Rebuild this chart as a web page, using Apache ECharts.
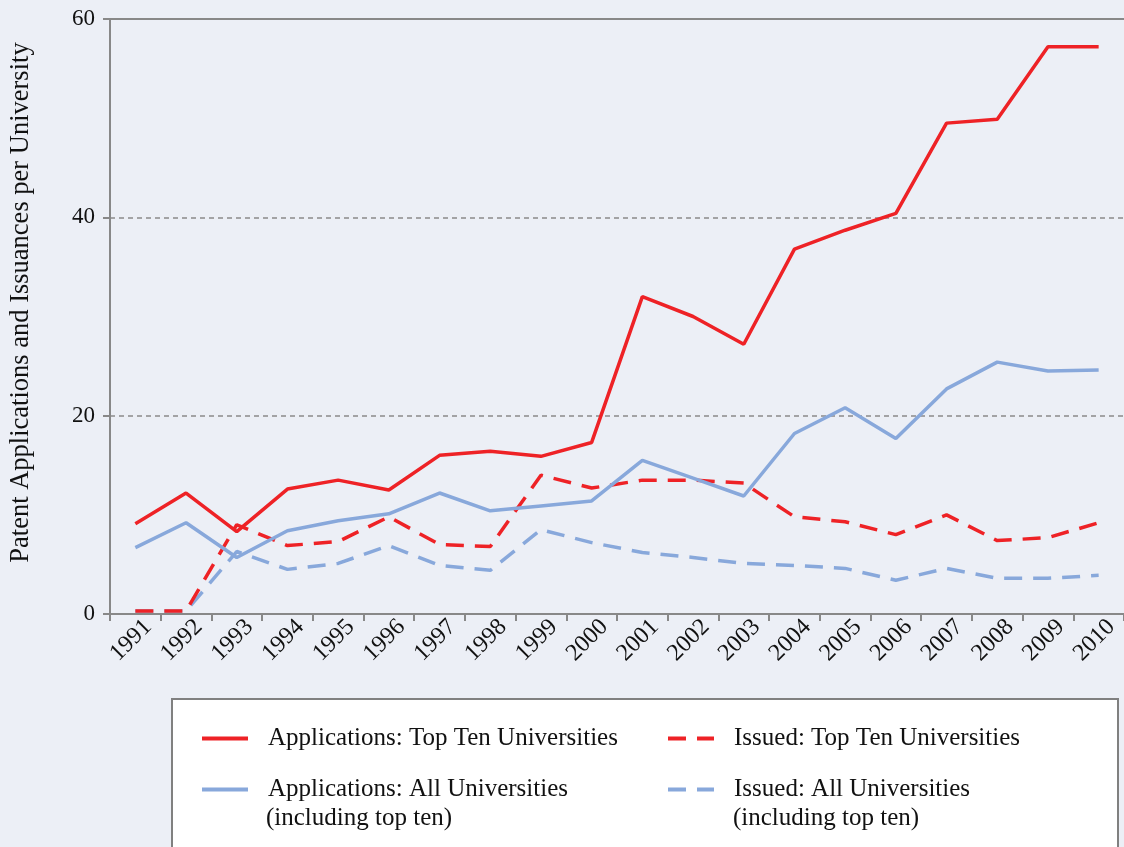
<!DOCTYPE html>
<html><head><meta charset="utf-8">
<script src="https://cdn.jsdelivr.net/npm/echarts@6/dist/echarts.min.js"></script>
<style>html,body{margin:0;padding:0;background:#eceff6;}#c{width:1124px;height:847px;}</style>
</head><body><div id="c"></div>
<script>
const years = ['1991','1992','1993','1994','1995','1996','1997','1998','1999','2000','2001','2002','2003','2004','2005','2006','2007','2008','2009','2010'];
const appsTopTen = [9.1,12.2,8.3,12.6,13.5,12.5,16.0,16.4,15.9,17.3,32.0,30.0,27.2,36.8,38.7,40.4,49.5,49.9,57.2,57.2];
const appsAll = [6.7,9.2,5.7,8.4,9.4,10.1,12.2,10.4,10.9,11.4,15.5,13.7,11.9,18.2,20.8,17.7,22.7,25.4,24.5,24.6];
const issuedTopTen = [0.3,0.3,9.0,6.9,7.3,9.8,7.0,6.8,14.0,12.7,13.5,13.5,13.2,9.8,9.3,8.0,10.0,7.4,7.7,9.2];
const issuedAll = [0.3,0.3,6.3,4.5,5.1,6.9,4.9,4.4,8.5,7.2,6.2,5.7,5.1,4.9,4.6,3.4,4.6,3.6,3.6,3.9];
const yTicks = [0,20,40,60];
const names = ['Applications: Top Ten Universities','Applications: All Universities','Issued: Top Ten Universities','Issued: All Universities'];
const subNote = '(including top ten)';

const RED = '#ee2226', BLUE = '#88a8db';
const FONT = '"Liberation Serif", "DejaVu Serif", serif';
const chart = echarts.init(document.getElementById('c'), null, {renderer:'canvas'});
const dash = [18, 11];
function line(name, data, color, dashed, z) {
  return {name, type:'line', data, symbol:'none', z,
    lineStyle:{color, width:3.5, type: dashed ? dash : 'solid'},
    itemStyle:{color}};
}
const legendBase = {orient:'vertical', top:726, itemWidth:46, itemHeight:14, itemGap:26, padding:0,
  itemStyle:{opacity:0}, lineStyle:{width:4},
  textStyle:{fontSize:25, color:'#111', fontFamily:FONT, padding:[0,0,0,15]}};
chart.setOption({
  backgroundColor:'#eceff6',
  animation:false,
  textStyle:{fontFamily:FONT},
  grid:{left:110, right:0, top:19, bottom:233},
  xAxis:[{type:'category', data:years, boundaryGap:true,
    axisLine:{lineStyle:{color:'#888', width:2}},
    axisTick:{show:true, length:7, lineStyle:{color:'#888', width:2}},
    axisLabel:{rotate:45, color:'#111', fontSize:24, fontFamily:FONT, margin:5,
      verticalAlign:'top', padding:[0,-6,0,0]}},
    {type:'category', data:years, position:'top', axisLine:{show:true, lineStyle:{color:'#888', width:2}},
     axisTick:{show:false}, axisLabel:{show:false}}],
  yAxis:{type:'value', min:yTicks[0], max:yTicks[yTicks.length-1], interval:20,
    name:'Patent Applications and Issuances per University', nameLocation:'middle', nameGap:75,
    nameTextStyle:{fontSize:26.5, color:'#111', fontFamily:FONT, padding:[0,0,0,28]},
    axisLine:{show:true, lineStyle:{color:'#888', width:2}},
    axisTick:{show:true, length:7, lineStyle:{color:'#888', width:2}},
    axisLabel:{fontSize:23, color:'#111', fontFamily:FONT, margin:15},
    splitLine:{show:true, lineStyle:{color:'#8a8a8a', width:1.5, type:[5,4]}}},
  legend:[
    Object.assign({data:[names[0], names[1]], left:200}, legendBase),
    Object.assign({data:[names[2], names[3]], left:666}, legendBase)
  ],
  graphic:[
    {type:'rect', z:-1, shape:{x:172, y:699, width:946, height:160}, style:{fill:'#ffffff', stroke:'#808080', lineWidth:2}},
    {type:'text', x:266, y:818, style:{text:subNote, font:'25px "Liberation Serif"', fill:'#111', verticalAlign:'middle'}},
    {type:'text', x:733, y:818, style:{text:subNote, font:'25px "Liberation Serif"', fill:'#111', verticalAlign:'middle'}}
  ],
  series:[
    line(names[3], issuedAll, BLUE, true, 2),
    line(names[2], issuedTopTen, RED, true, 3),
    line(names[1], appsAll, BLUE, false, 4),
    line(names[0], appsTopTen, RED, false, 5)
  ]
});
</script></body></html>
